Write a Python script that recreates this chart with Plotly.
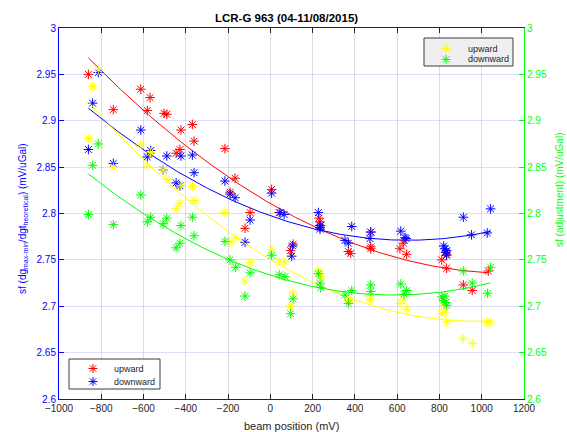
import numpy as np
import plotly.graph_objects as go

# --- scale factor vs. beam position, LCR-G 963 -------------------------------
# left axis: sf from dg(max-min) / dg(theoretical)
up_x = [-861, -743, -613, -582, -569, -503, -490, -446, -428, -423, -369, -361,
        -215, -191, -167, -120, -96, 6, 42, 96, 108, 230, 235, 238, 369, 380,
        475, 475, 475, 613, 629, 645, 811, 834, 834, 913, 955, 1031]
up_y = [2.950, 2.912, 2.934, 2.911, 2.925, 2.908, 2.907, 2.865, 2.869, 2.890,
        2.896, 2.878, 2.870, 2.823, 2.838, 2.784, 2.801, 2.826, 2.801, 2.760,
        2.767, 2.795, 2.791, 2.787, 2.759, 2.757, 2.780, 2.764, 2.762, 2.762,
        2.768, 2.756, 2.750, 2.756, 2.741, 2.723, 2.717, 2.738]

down_x = [-861, -841, -814, -743, -613, -582, -566, -507, -490, -446, -428, -423,
          -369, -361, -215, -191, -167, -120, -96, 6, 46, 65, 101, 105, 227, 235,
          235, 235, 353, 369, 385, 471, 475, 617, 637, 642, 820, 826, 830, 834,
          834, 913, 952, 1026, 1042]
down_y = [2.869, 2.919, 2.952, 2.854, 2.890, 2.861, 2.868, 2.847, 2.862, 2.833,
          2.830, 2.862, 2.863, 2.844, 2.835, 2.821, 2.817, 2.769, 2.793, 2.822,
          2.801, 2.799, 2.754, 2.765, 2.801, 2.787, 2.785, 2.783, 2.771, 2.768,
          2.786, 2.773, 2.780, 2.781, 2.774, 2.773, 2.765, 2.762, 2.758, 2.755,
          2.760, 2.796, 2.777, 2.779, 2.805]

# right axis: sf from adjustment
adj_up_x = [-861, -841, -814, -743, -613, -582, -566, -507, -490, -446, -428, -423,
            -369, -361, -215, -191, -164, -120, -96, 6, 42, 69, 96, 108, 227, 235,
            238, 369, 377, 471, 475, 613, 629, 645, 811, 821, 826, 834, 913, 955,
            1023, 1042]
adj_up_y = [2.881, 2.937, 2.955, 2.850, 2.875, 2.851, 2.866, 2.847, 2.837, 2.805,
            2.811, 2.830, 2.829, 2.814, 2.801, 2.769, 2.774, 2.727, 2.747, 2.761,
            2.748, 2.748, 2.700, 2.714, 2.738, 2.735, 2.732, 2.706, 2.707, 2.707,
            2.709, 2.703, 2.707, 2.697, 2.692, 2.701, 2.693, 2.683, 2.665, 2.660,
            2.683, 2.683]

adj_down_x = [-861, -841, -814, -743, -613, -582, -566, -507, -490, -446, -428, -423,
              -369, -361, -215, -191, -164, -120, -96, 6, 42, 69, 96, 108, 227, 235,
              238, 353, 369, 385, 475, 475, 617, 632, 645, 811, 820, 826, 830, 834,
              913, 955, 1028, 1042]
adj_down_y = [2.799, 2.852, 2.875, 2.788, 2.820, 2.791, 2.796, 2.789, 2.795, 2.763,
              2.768, 2.787, 2.796, 2.776, 2.770, 2.750, 2.742, 2.711, 2.736, 2.755,
              2.734, 2.732, 2.692, 2.708, 2.735, 2.725, 2.720, 2.712, 2.703, 2.717,
              2.723, 2.716, 2.724, 2.713, 2.717, 2.710, 2.706, 2.711, 2.704, 2.701,
              2.738, 2.725, 2.714, 2.742]

x_ticks = list(range(-1000, 1201, 200))

FONT = "Liberation Sans, Arial, Helvetica, sans-serif"
BLUE = "#0000ff"
GREEN = "#00ff00"
RED = "#ff0000"
YELLOW = "#ffff00"
TXT = "#262626"

series = [
    # x, y, colour, axis
    (up_x, up_y, RED, "y"),
    (down_x, down_y, BLUE, "y"),
    (adj_up_x, adj_up_y, YELLOW, "y2"),
    (adj_down_x, adj_down_y, GREEN, "y2"),
]

fig = go.Figure()

# quadratic trend for each series, drawn under the markers
for xs, ys, col, ax in series:
    coef = np.polyfit(xs, ys, 2)
    xf = np.linspace(min(xs), max(xs), 200)
    fig.add_trace(go.Scatter(
        x=xf, y=np.polyval(coef, xf), mode="lines", yaxis=ax,
        line=dict(color=col, width=1), showlegend=False, hoverinfo="skip"))

for xs, ys, col, ax in series:
    fig.add_trace(go.Scatter(
        x=xs, y=ys, mode="markers", yaxis=ax, showlegend=False,
        marker=dict(symbol="asterisk-open", size=8, color=col,
                    line=dict(color=col, width=1))))

# plot area in pixels (used to place the two legend boxes)
L, R, T, B = 59, 524, 28, 399
W, H = R - L, B - T


def px(x):
    return (x - L) / W


def py(y):
    return (B - y) / H


def star(cx, cy, col, r=4.5):
    d = r * 0.7071
    path = (f"M{-r},0 L{r},0 M0,{-r} L0,{r} "
            f"M{-d},{-d} L{d},{d} M{-d},{d} L{d},{-d}")
    return dict(type="path", xref="paper", yref="paper",
                xsizemode="pixel", ysizemode="pixel",
                xanchor=px(cx), yanchor=py(cy), path=path,
                line=dict(color=col, width=1), layer="above")


shapes = []
annotations = []
legend_boxes = [
    # box x0, x1, y0, y1, fill, key x, text x, rows
    (424, 513, 38, 66, "#efefef", 446, 466,
     [(48.5, YELLOW, "upward"), (59.5, GREEN, "downward")]),
    (69, 160, 359, 389, "#ffffff", 93, 112,
     [(368.5, RED, "upward"), (381.5, BLUE, "downward")]),
]
for x0, x1, y0, y1, fill, kx, tx, rows in legend_boxes:
    shapes.append(dict(type="rect", xref="paper", yref="paper",
                       x0=px(x0), x1=px(x1), y0=py(y1), y1=py(y0),
                       fillcolor=fill, line=dict(color="#3c3c3c", width=1),
                       layer="above"))
    for ry, col, label in rows:
        shapes.append(star(kx, ry, col))
        annotations.append(dict(text=label, xref="paper", yref="paper",
                                x=px(tx), y=py(ry), xanchor="left",
                                yanchor="middle", showarrow=False,
                                font=dict(size=9, color=TXT)))

annotations += [
    dict(text="beam position (mV)", xref="paper", yref="paper",
         x=0.5, y=py(426), xanchor="center", yanchor="middle",
         showarrow=False, font=dict(size=11, color=TXT)),
    dict(text="sf (dg<sub>max-min</sub>/dgt<sub>heoretical</sub>) (mV/uGal)",
         xref="paper", yref="paper", x=px(23), y=py(219),
         xanchor="center", yanchor="middle", textangle=-90, showarrow=False,
         font=dict(size=10, color=BLUE)),
    dict(text="sf (adjustment) (mV/uGal)", xref="paper", yref="paper",
         x=px(560), y=py(190), xanchor="center",
         yanchor="middle", textangle=-90, showarrow=False,
         font=dict(size=10, color=GREEN)),
]

fig.update_layout(
    width=567, height=432,
    margin=dict(l=L, r=567 - R, t=T, b=432 - B),
    paper_bgcolor="white", plot_bgcolor="white",
    font=dict(family=FONT, size=10, color=TXT),
    showlegend=False,
    title=dict(text="<b>LCR-G 963 (04-11/08/2015)</b>", x=px(294), xanchor="center",
               y=1 - 18 / 432, yanchor="middle",
               font=dict(family=FONT, size=11.5, color="#000000")),
    xaxis=dict(range=[-1000, 1200], tickvals=x_ticks, ticks="inside", ticklen=5,
               tickcolor=TXT, showline=True, linecolor=TXT, linewidth=1,
               mirror="ticks", showgrid=True, gridcolor="rgba(0,0,0,0.13)",
               zeroline=False, tickfont=dict(size=10, color=TXT)),
    yaxis=dict(range=[2.6, 3], dtick=0.05, ticks="inside", ticklen=5,
               tickcolor=BLUE, showline=True, linecolor=BLUE, linewidth=1,
               showgrid=True, gridcolor="rgba(0,0,255,0.13)", zeroline=False,
               tickfont=dict(size=10, color=BLUE)),
    yaxis2=dict(range=[2.6, 3], dtick=0.05, overlaying="y", side="right",
                ticks="inside", ticklen=5, tickcolor=GREEN, showline=True,
                linecolor=GREEN, linewidth=1, showgrid=False, zeroline=False,
                tickfont=dict(size=10, color=GREEN)),
    shapes=shapes,
    annotations=annotations,
)

fig.write_html("out.html")
